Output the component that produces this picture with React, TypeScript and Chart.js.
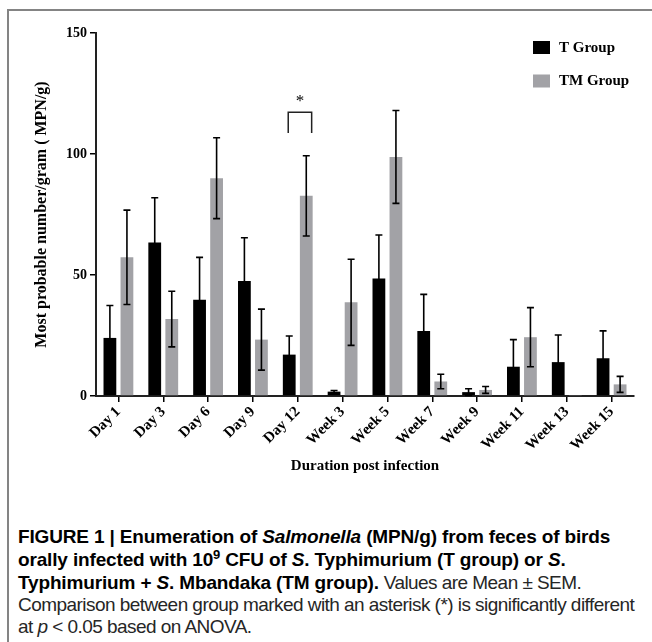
import React, { useEffect, useRef } from "react";
import { Chart, registerables } from "chart.js";

Chart.register(...registerables);

const categories = ["Day 1", "Day 3", "Day 6", "Day 9", "Day 12", "Week 3", "Week 5", "Week 7", "Week 9", "Week 11", "Week 13", "Week 15"];
const tGroup = [24, 63.4, 39.8, 47.5, 17.1, 1.8, 48.6, 26.9, 1.6, 12.1, 14, 15.6];
const tGroupSem = [13.4, 18.5, 17.5, 17.9, 7.7, 0.5, 17.9, 15.1, 1.4, 11.2, 11.2, 11.3];
const tmGroup = [57.3, 31.8, 90, 23.3, 82.7, 38.7, 98.8, 6, 2.5, 24.3, 0.4, 4.8];
const tmGroupSem = [19.5, 11.5, 16.7, 12.6, 16.6, 17.8, 19.2, 3, 1.4, 12.2, 0, 3.3];
const seriesLabels = ["T Group", "TM Group"];
const yTicks = [0, 50, 100, 150];
const sigCategory = "Day 12";
const sigBracketTop = 117.3;
const sigBracketBottom = 108.7;
const sigStarValue = 123;

const BLACK = "#000000";
const GRAY = "#a2a2a6";
const SERIF = '"Liberation Serif", "Times New Roman", serif';

const errorBarPlugin = {
  id: "errorBars",
  afterDatasetsDraw(chart: any) {
    const { ctx } = chart;
    const y = chart.scales.y;
    const sems = [tGroupSem, tmGroupSem];
    ctx.save();
    ctx.strokeStyle = "#000";
    ctx.lineWidth = 1.6;
    chart.data.datasets.forEach((ds: any, di: number) => {
      const meta = chart.getDatasetMeta(di);
      meta.data.forEach((bar: any, i: number) => {
        const v = ds.data[i];
        const e = sems[di][i];
        if (!e) return;
        const yTop = y.getPixelForValue(v + e);
        const yBot = y.getPixelForValue(Math.max(0, v - e));
        const x = bar.x;
        ctx.beginPath();
        ctx.moveTo(x, yBot);
        ctx.lineTo(x, yTop);
        ctx.moveTo(x - 3.5, yTop);
        ctx.lineTo(x + 3.5, yTop);
        ctx.moveTo(x - 3.5, yBot);
        ctx.lineTo(x + 3.5, yBot);
        ctx.stroke();
      });
    });
    ctx.restore();
  },
};

const annotationPlugin = {
  id: "annotations",
  afterDraw(chart: any) {
    const { ctx, chartArea } = chart;
    const y = chart.scales.y;
    const idx = categories.indexOf(sigCategory);
    const b0 = chart.getDatasetMeta(0).data[idx];
    const b1 = chart.getDatasetMeta(1).data[idx];
    ctx.save();
    const xl = b0.x - 1;
    const xr = b1.x + b1.width / 2 - 1;
    const yt = y.getPixelForValue(sigBracketTop);
    const yb = y.getPixelForValue(sigBracketBottom);
    ctx.strokeStyle = "#222";
    ctx.lineWidth = 1.5;
    ctx.beginPath();
    ctx.moveTo(xl, yb);
    ctx.lineTo(xl, yt);
    ctx.lineTo(xr, yt);
    ctx.lineTo(xr, yb);
    ctx.stroke();
    ctx.fillStyle = "#000";
    ctx.font = `17px ${SERIF}`;
    ctx.textAlign = "center";
    ctx.textBaseline = "middle";
    ctx.fillText("*", (xl + xr) / 2, y.getPixelForValue(sigStarValue) + 3);

    const colors = [BLACK, GRAY];
    const lx = chartArea.right - 101;
    const ly = chartArea.top + 8;
    ctx.font = `bold 15px ${SERIF}`;
    ctx.textAlign = "left";
    seriesLabels.forEach((lab, i) => {
      const yy = ly + i * 33.5;
      ctx.fillStyle = colors[i];
      ctx.fillRect(lx, yy, 17, 13);
      ctx.fillStyle = "#000";
      ctx.fillText(lab, lx + 26, yy + 7);
    });
    ctx.restore();
  },
};

function ChartView() {
  const ref = useRef<HTMLCanvasElement | null>(null);
  useEffect(() => {
    if (!ref.current) return;
    const chart = new Chart(ref.current, {
      type: "bar",
      data: {
        labels: categories,
        datasets: [
          { label: seriesLabels[0], data: tGroup, backgroundColor: BLACK, borderWidth: 0 },
          { label: seriesLabels[1], data: tmGroup, backgroundColor: GRAY, borderWidth: 0 },
        ],
      },
      options: {
        responsive: false,
        animation: false,
        devicePixelRatio: 1,
        layout: { padding: { top: 33, right: 18, left: 0, bottom: 0 } },
        datasets: { bar: { categoryPercentage: 0.76, barPercentage: 0.75 } },
        plugins: { legend: { display: false }, tooltip: { enabled: false } },
        scales: {
          x: {
            offset: true,
            grid: { offset: false, drawOnChartArea: false, drawTicks: true, tickLength: 6, color: "#000", lineWidth: 1.5 },
            border: { display: true, color: "#222", width: 2 },
            ticks: {
              autoSkip: false,
              minRotation: 45,
              maxRotation: 45,
              padding: 1,
              color: "#000",
              font: { family: SERIF, size: 15, weight: "bold" },
            },
            title: {
              display: true,
              text: "Duration post infection",
              color: "#000",
              font: { family: SERIF, size: 15, weight: "bold" },
              padding: { top: 4, bottom: 15 },
            },
            afterFit(scale: any) {
              scale.height = 94;
            },
          },
          y: {
            min: 0,
            max: 150,
            afterBuildTicks(scale: any) {
              scale.ticks = yTicks.map((v) => ({ value: v }));
            },
            grid: { drawOnChartArea: false, drawTicks: true, tickLength: 6, color: "#000", lineWidth: 1.5 },
            border: { display: true, color: "#222", width: 2 },
            ticks: {
              padding: 3,
              color: "#000",
              font: { family: SERIF, size: 14, weight: "bold" },
            },
            title: {
              display: true,
              text: "Most probable number/gram ( MPN/g)",
              color: "#000",
              font: { family: SERIF, size: 16, weight: "bold" },
              padding: { top: 32, bottom: 4 },
            },
            afterFit(scale: any) {
              scale.width = 96;
            },
          },
        },
      },
      plugins: [errorBarPlugin, annotationPlugin],
    } as any);
    return () => chart.destroy();
  }, []);
  return (
    <canvas
      ref={ref}
      width={652}
      height={490}
      style={{ position: "absolute", left: 0, top: 0, width: 652, height: 490 }}
    />
  );
}

const CAP_FONT = '"Liberation Sans", Arial, sans-serif';

export default function App() {
  const lineStyle: React.CSSProperties = {
    position: "absolute",
    left: 18,
    whiteSpace: "nowrap",
    fontFamily: CAP_FONT,
    fontSize: 19,
    lineHeight: "22px",
    color: "#262626",
    letterSpacing: "-0.55px",
  };
  const boldStyle: React.CSSProperties = { fontWeight: "bold", color: "#000", letterSpacing: "-0.15px" };
  return (
    <div style={{ position: "absolute", left: 0, top: 0, width: 652, height: 642, overflow: "hidden", background: "#fff" }}>
      <div
        style={{
          position: "absolute",
          left: 7,
          top: 9,
          right: 0,
          bottom: 0,
          borderLeft: "2px solid #848484",
          borderTop: "2px solid #848484",
        }}
      />
      <ChartView />
      <div style={{ ...lineStyle, ...boldStyle, top: 526 }}>
        FIGURE 1 | Enumeration of <i>Salmonella</i> (MPN/g) from feces of birds
      </div>
      <div style={{ ...lineStyle, ...boldStyle, top: 549 }}>
        orally infected with 10<sup style={{ fontSize: 13, lineHeight: 0 }}>9</sup> CFU of <i>S</i>. Typhimurium (T group) or <i>S</i>.
      </div>
      <div style={{ ...lineStyle, top: 572 }}>
        <span style={boldStyle}>
          Typhimurium + <i>S</i>. Mbandaka (TM group).
        </span>{" "}
        Values are Mean ± SEM.
      </div>
      <div style={{ ...lineStyle, top: 594 }}>
        Comparison between group marked with an asterisk (*) is significantly different
      </div>
      <div style={{ ...lineStyle, top: 616 }}>
        at <i>p</i> &lt; 0.05 based on ANOVA.
      </div>
    </div>
  );
}
